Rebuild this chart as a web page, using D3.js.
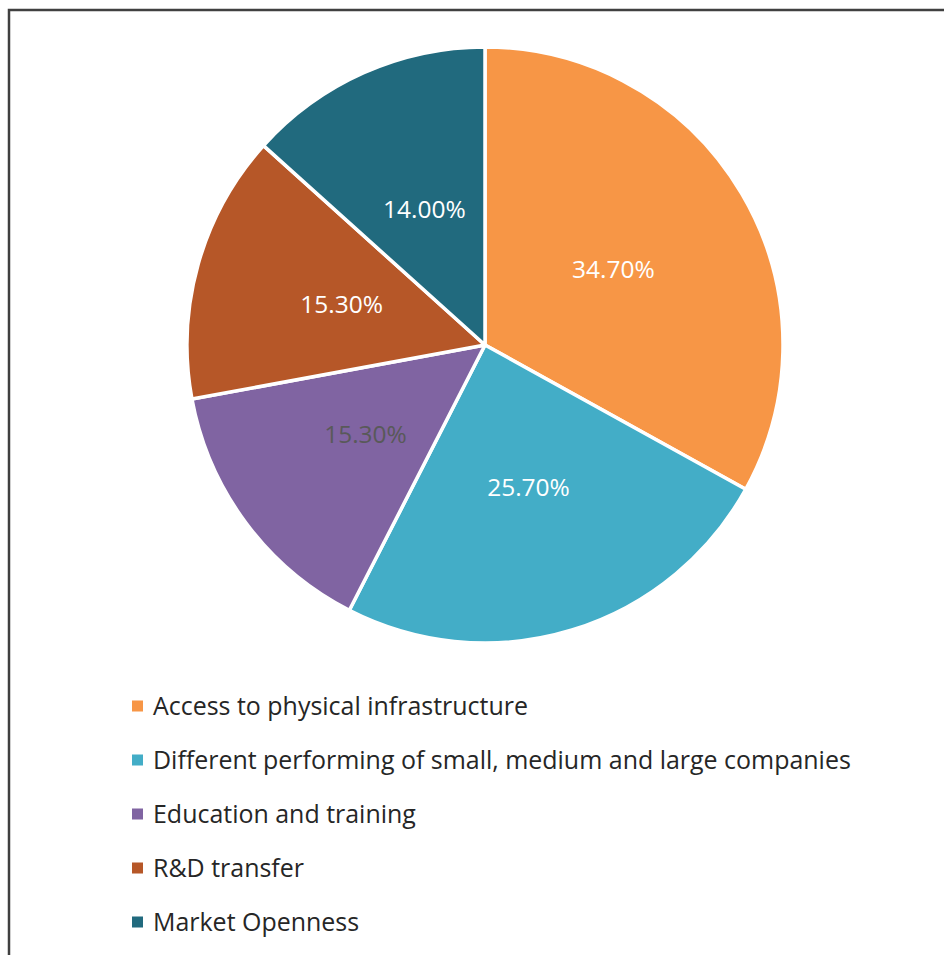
<!DOCTYPE html>
<html>
<head>
<meta charset="utf-8">
<script src="https://cdn.jsdelivr.net/npm/d3@7"></script>
<style>
  body { margin: 0; background: #fff; }
  svg { display: block; }
</style>
</head>
<body>
<div id="container"></div>
<script>
// chart size
var width = 944;
var height = 955;

// data
var categories = ["Access to physical infrastructure",
    "Different performing of small, medium and large companies",
    "Education and training",
    "R&D transfer",
    "Market Openness"];
var values = [34.7, 25.7, 15.3, 15.3, 14.0];
var labels = ["34.70%", "25.70%", "15.30%", "15.30%", "14.00%"];
var colorList = ["#F79646", "#43ADC7", "#8064A2", "#B65728", "#216A7E"];
var labelColors = ["#ffffff", "#ffffff", "#595959", "#ffffff", "#ffffff"];

var font = "'Open Sans', sans-serif";

var svg = d3.select("#container").append("svg")
    .attr("width", width)
    .attr("height", height);

// outer frame (runs off the picture on right and bottom)
svg.append("rect")
    .attr("x", 9)
    .attr("y", 10)
    .attr("width", 960)
    .attr("height", 980)
    .attr("fill", "none")
    .attr("stroke", "#404040")
    .attr("stroke-width", 2.5);

//----------------------------PIE------------------------------//
var cx = 485, cy = 345, radius = 298;

var pie = d3.pie().sort(null).value(function (d) { return d; });
var arc = d3.arc().innerRadius(0).outerRadius(radius);
var labelArc = d3.arc().innerRadius(radius * 0.5).outerRadius(radius * 0.5);

var colors = d3.scaleOrdinal().domain(categories).range(colorList);

var g = svg.append("g").attr("transform", "translate(" + cx + "," + cy + ")");

var slices = g.selectAll(".slice")
    .data(pie(values))
    .enter()
    .append("g");

slices.append("path")
    .attr("d", arc)
    .attr("fill", function (d, i) { return colors(categories[i]); })
    .attr("stroke", "#fff")
    .attr("stroke-width", 3.5)
    .attr("stroke-linejoin", "round");

slices.append("text")
    .attr("transform", function (d) { return "translate(" + labelArc.centroid(d) + ")"; })
    .attr("text-anchor", "middle")
    .attr("dy", "0.36em")
    .style("font-family", font)
    .style("font-size", "24.5px")
    .attr("fill", function (d, i) { return labelColors[i]; })
    .text(function (d, i) { return labels[i]; });

//----------------------------LEGEND------------------------------//
var legend = svg.append("g").attr("transform", "translate(132,0)");

var rows = legend.selectAll(".row")
    .data(categories)
    .enter()
    .append("g")
    .attr("transform", function (d, i) { return "translate(0," + (706 + i * 54) + ")"; });

rows.append("rect")
    .attr("x", 0)
    .attr("y", -5.5)
    .attr("width", 11)
    .attr("height", 11)
    .attr("fill", function (d) { return colors(d); });

var legendText = rows.append("text")
    .attr("x", 21)
    .attr("dy", "0.36em")
    .style("font-family", font)
    .style("font-size", "22px")
    .attr("fill", "#262626")
    .text(function (d) { return d; });

// fit the longest legend entry to the reference width
var longest = legendText.nodes()[1].getComputedTextLength();
var fs = 22 * 698 / longest;
legendText.style("font-size", fs + "px");
</script>
</body>
</html>
